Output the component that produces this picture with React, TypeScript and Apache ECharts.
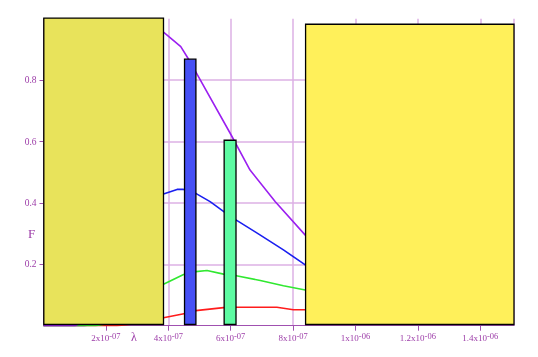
import React, { useEffect, useRef } from "react";
import * as echarts from "echarts";

// Curves: [wavelength (m), F]
const purpleCurve: number[][] = [
  [0, 0], [1.0e-7, 0], [1.1e-7, 0.004], [1.5e-7, 0.2], [2.0e-7, 0.62], [2.5e-7, 0.9],
  [3.0e-7, 0.995], [3.4e-7, 0.995], [3.846e-7, 0.956], [4.4e-7, 0.909], [4.65e-7, 0.868],
  [4.88e-7, 0.827], [6.01e-7, 0.622], [6.62e-7, 0.507], [7.43e-7, 0.404], [8.39e-7, 0.295],
  [9.5e-7, 0.2], [1.1e-6, 0.13], [1.3e-6, 0.08], [1.5e-6, 0.05],
];
const blueCurve: number[][] = [
  [0, 0], [1.3e-7, 0], [1.6e-7, 0.005], [2.0e-7, 0.03], [2.5e-7, 0.13], [3.0e-7, 0.27],
  [3.5e-7, 0.38], [3.846e-7, 0.429], [4.28e-7, 0.444], [4.49e-7, 0.444], [4.88e-7, 0.431],
  [5.34e-7, 0.404], [5.79e-7, 0.371], [6.18e-7, 0.344], [6.95e-7, 0.295], [7.69e-7, 0.247],
  [8.39e-7, 0.198], [1.0e-6, 0.12], [1.2e-6, 0.07], [1.5e-6, 0.035],
];
const greenCurve: number[][] = [
  [0, 0], [1.66e-7, 0], [2.0e-7, 0.006], [2.5e-7, 0.03], [3.0e-7, 0.07], [3.5e-7, 0.11],
  [3.846e-7, 0.135], [4.49e-7, 0.167], [4.88e-7, 0.176], [5.24e-7, 0.18], [5.77e-7, 0.168],
  [6.18e-7, 0.163], [6.95e-7, 0.147], [7.69e-7, 0.13], [8.39e-7, 0.116], [1.0e-6, 0.085],
  [1.2e-6, 0.06], [1.5e-6, 0.035],
];
const redCurve: number[][] = [
  [0, 0], [2.35e-7, 0], [2.8e-7, 0.005], [3.3e-7, 0.014], [3.846e-7, 0.026], [4.54e-7, 0.04],
  [4.88e-7, 0.049], [5.77e-7, 0.059], [6.18e-7, 0.06], [7.48e-7, 0.06], [8.01e-7, 0.052],
  [8.39e-7, 0.052], [1.0e-6, 0.045], [1.2e-6, 0.035], [1.5e-6, 0.025],
];

// Rectangles / bars: [x start, x end, height]
const rects: number[][] = [
  [0.01e-7, 3.846e-7, 1.002],
  [4.52e-7, 4.885e-7, 0.868],
  [5.79e-7, 6.17e-7, 0.604],
  [8.4e-7, 1.508e-6, 0.982],
];
const rectColors = ["#e8e35b", "#4650f5", "#5dfba2", "#fff05a"];

const xTickLabels = ["", "2x10{sup|-07}", "4x10{sup|-07}", "6x10{sup|-07}", "8x10{sup|-07}", "1x10{sup|-06}", "1.2x10{sup|-06}", "1.4x10{sup|-06}"];
const yGridValues = [0.2, 0.4, 0.6, 0.8];

const AXIS_COLOR = "#a050b0";
const LABEL_COLOR = "#9c3ca8";
const GRID_COLOR = "#dcb0e4";
const FONT = "'Liberation Serif', 'DejaVu Serif', serif";

export default function App() {
  const ref = useRef<HTMLDivElement>(null);
  useEffect(() => {
    if (!ref.current) return;
    const chart = echarts.init(ref.current, null, { renderer: "svg" });
    const lineSeries = (name: string, data: number[][], color: string) => ({
      name,
      type: "line",
      data,
      showSymbol: false,
      symbol: "none",
      smooth: false,
      lineStyle: { color, width: 1.6 },
      itemStyle: { color },
      z: 2,
    });
    chart.setOption({
      animation: false,
      grid: { left: 43.5, right: 24, top: 18.7, bottom: 31.3, containLabel: false },
      xAxis: {
        type: "value",
        min: 0,
        max: 1.508e-6,
        interval: 2e-7,
        axisLine: { show: true, lineStyle: { color: AXIS_COLOR, width: 1 } },
        axisTick: { show: true, length: 5, lineStyle: { color: AXIS_COLOR } },
        splitLine: { show: true, lineStyle: { color: GRID_COLOR, width: 1.5 } },
        axisLabel: {
          showMinLabel: false,
          showMaxLabel: false,
          color: LABEL_COLOR,
          fontFamily: FONT,
          fontSize: 9,
          lineHeight: 14,
          margin: 5.5,
          formatter: (v: number) => {
            const i = Math.round(v / 2e-7);
            return xTickLabels[i] ?? "";
          },
          rich: {
            sup: { fontSize: 8.5, color: LABEL_COLOR, fontFamily: FONT, verticalAlign: "top", lineHeight: 8 },
          },
        },
      },
      yAxis: {
        type: "value",
        min: 0,
        max: 1,
        interval: 0.2,
        axisLine: { show: true, lineStyle: { color: AXIS_COLOR, width: 1 } },
        axisTick: { show: true, length: 4, lineStyle: { color: AXIS_COLOR } },
        splitLine: { show: false },
        axisLabel: {
          showMinLabel: false,
          showMaxLabel: false,
          color: LABEL_COLOR,
          fontFamily: FONT,
          fontSize: 9.5,
          margin: 7,
          formatter: (v: number) => v.toFixed(1),
        },
      },
      graphic: [
        { type: "text", left: 131, top: 331, style: { text: "λ", fill: LABEL_COLOR, font: `12px ${FONT}` } },
        { type: "text", left: 28, top: 227, style: { text: "F", fill: LABEL_COLOR, font: `13px ${FONT}` } },
      ],
      series: [
        {
          type: "line",
          data: [[0, 0]],
          showSymbol: false,
          lineStyle: { opacity: 0 },
          silent: true,
          z: 1,
          markLine: {
            silent: true,
            symbol: ["none", "none"],
            z: 1,
            label: { show: false },
            lineStyle: { color: GRID_COLOR, width: 1.5, type: "solid" },
            data: yGridValues.map((v) => ({ yAxis: v })),
          },
        },
        lineSeries("blue", blueCurve, "#1a1ff0"),
        lineSeries("red", redCurve, "#ff1c1c"),
        lineSeries("green", greenCurve, "#30e830"),
        lineSeries("purple", purpleCurve, "#9b1ff0"),
        {
          type: "custom",
          clip: false,
          z: 3,
          encode: { x: [0, 1], y: 2 },
          data: rects.map((r, i) => ({ value: r, itemStyle: { color: rectColors[i] } })),
          renderItem: (params: any, api: any) => {
            const p0 = api.coord([api.value(0), api.value(2)]);
            const p1 = api.coord([api.value(1), 0]);
            return {
              type: "rect",
              shape: { x: p0[0], y: p0[1], width: p1[0] - p0[0], height: p1[1] - p0[1] - 1.2 },
              style: { fill: api.visual("color"), stroke: "#000", lineWidth: 1.3 },
            };
          },
        },
      ],
    });
    return () => chart.dispose();
  }, []);
  return <div ref={ref} style={{ position: "fixed", left: 0, top: 0, width: 538, height: 357 }} />;
}
